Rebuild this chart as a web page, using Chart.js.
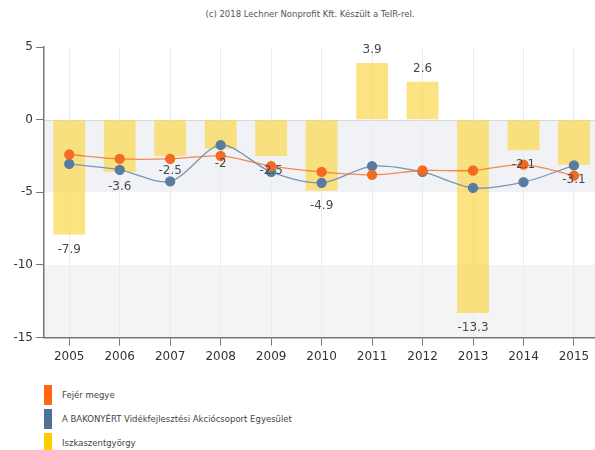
<!DOCTYPE html>
<html>
<head>
<meta charset="utf-8">
<script src="https://cdn.jsdelivr.net/npm/chart.js@4"></script>
<style>
  body { margin: 0; background: #fff; font-family: "DejaVu Sans", sans-serif; }
  #wrap { position: relative; width: 595px; height: 450px; overflow: hidden; }
  #title { position: absolute; top: 9px; left: 0; width: 620px; text-align: center; font-size: 8.5px; color: #555; }
  canvas { position: absolute; left: 0; top: 0; }
  #legend { position: absolute; left: 44px; top: 385px; }
  .item { height: 20px; margin-bottom: 4px; display: flex; align-items: center; font-size: 8.5px; color: #444; }
  .box { width: 8px; height: 20px; margin-right: 10px; }
</style>
</head>
<body>
<div id="wrap">
  <div id="title">(c) 2018 Lechner Nonprofit Kft. Készült a TeIR-rel.</div>
  <canvas id="c" width="605" height="372"></canvas>
  <div id="legend"></div>
</div>
<script>
var years = ['2005','2006','2007','2008','2009','2010','2011','2012','2013','2014','2015'];
var fejer = [-2.4, -2.7, -2.7, -2.5, -3.2, -3.6, -3.8, -3.5, -3.5, -3.1, -3.85];
var bakonyert = [-3.05, -3.45, -4.25, -1.75, -3.6, -4.35, -3.2, -3.6, -4.7, -4.3, -3.15];
var iszka = [-7.9, -3.6, -2.5, -2, -2.5, -4.9, 3.9, 2.6, -13.3, -2.1, -3.1];
var yTicks = [5, 0, -5, -10, -15];

var bands = {
  id: 'bands',
  beforeDraw: function(chart) {
    var ctx = chart.ctx, a = chart.chartArea, y = chart.scales.y;
    ctx.save();
    ctx.fillStyle = '#f1f2f6';
    ctx.fillRect(a.left, y.getPixelForValue(0), a.right - a.left, y.getPixelForValue(-5) - y.getPixelForValue(0));
    ctx.fillStyle = '#f4f4f4';
    ctx.fillRect(a.left, y.getPixelForValue(-10), a.right - a.left, y.getPixelForValue(-15) - y.getPixelForValue(-10));
    ctx.strokeStyle = '#d8d8e0';
    ctx.lineWidth = 1;
    ctx.beginPath();
    ctx.moveTo(a.left, Math.round(y.getPixelForValue(0)) + 0.5);
    ctx.lineTo(a.right, Math.round(y.getPixelForValue(0)) + 0.5);
    ctx.stroke();
    ctx.restore();
  }
};

var barLabels = {
  id: 'barLabels',
  afterDatasetsDraw: function(chart) {
    var ctx = chart.ctx;
    var meta = chart.getDatasetMeta(2);
    ctx.save();
    ctx.font = '12px "DejaVu Sans"';
    ctx.fillStyle = '#4a4a4a';
    ctx.textAlign = 'center';
    ctx.textBaseline = 'middle';
    meta.data.forEach(function(el, i) {
      var v = iszka[i];
      var ty = v < 0 ? el.y + 15 : el.y - 13;
      ctx.fillText(String(v), el.x, ty);
    });
    ctx.restore();
  }
};

var chart = new Chart(document.getElementById('c').getContext('2d'), {
  type: 'bar',
  data: {
    labels: years,
    datasets: [
      {
        type: 'line', label: 'Fejér megye', data: fejer, order: 1,
        borderColor: 'rgba(242,110,40,0.8)', borderWidth: 1.3,
        pointBackgroundColor: '#f26b21', pointBorderColor: '#f26b21', pointRadius: 4.5,
        tension: 0.3, fill: false
      },
      {
        type: 'line', label: 'A BAKONYÉRT Vidékfejlesztési Akciócsoport Egyesület', data: bakonyert, order: 2,
        borderColor: '#7696b5', borderWidth: 1.3,
        pointBackgroundColor: '#587ca0', pointBorderColor: '#587ca0', pointRadius: 4.5,
        tension: 0.3, fill: false
      },
      {
        type: 'bar', label: 'Iszkaszentgyörgy', data: iszka, order: 3,
        backgroundColor: 'rgba(251,216,80,0.72)',
        categoryPercentage: 1, barPercentage: 0.63
      }
    ]
  },
  options: {
    responsive: false,
    animation: false,
    layout: { padding: { top: 47, right: 0, bottom: 4, left: 0 } },
    plugins: { legend: { display: false }, title: { display: false }, tooltip: { enabled: false } },
    scales: {
      x: {
        offset: true,
        grid: { offset: false, color: '#ececec', tickLength: 8, tickColor: '#777' },
        border: { color: '#777', width: 1.5 },
        ticks: { color: '#333', font: { family: 'DejaVu Sans', size: 12 }, padding: 4 }
      },
      y: {
        min: -15, max: 5,
        afterFit: function(s) { s.width = 44; },
        afterBuildTicks: function(s) { s.ticks = yTicks.map(function(v) { return { value: v }; }); },
        grid: { drawOnChartArea: false, tickLength: 8, tickColor: '#777' },
        border: { color: '#777', width: 1.5 },
        ticks: { color: '#333', font: { family: 'DejaVu Sans', size: 12 }, padding: 3 }
      }
    }
  },
  plugins: [bands, barLabels]
});

var leg = document.getElementById('legend');
[['#ff6611', 'Fejér megye'], ['#4f6f94', 'A BAKONYÉRT Vidékfejlesztési Akciócsoport Egyesület'], ['#ffcc00', 'Iszkaszentgyörgy']].forEach(function(it) {
  var d = document.createElement('div');
  d.className = 'item';
  d.innerHTML = '<span class="box" style="background:' + it[0] + '"></span><span>' + it[1] + '</span>';
  leg.appendChild(d);
});
</script>
</body>
</html>
